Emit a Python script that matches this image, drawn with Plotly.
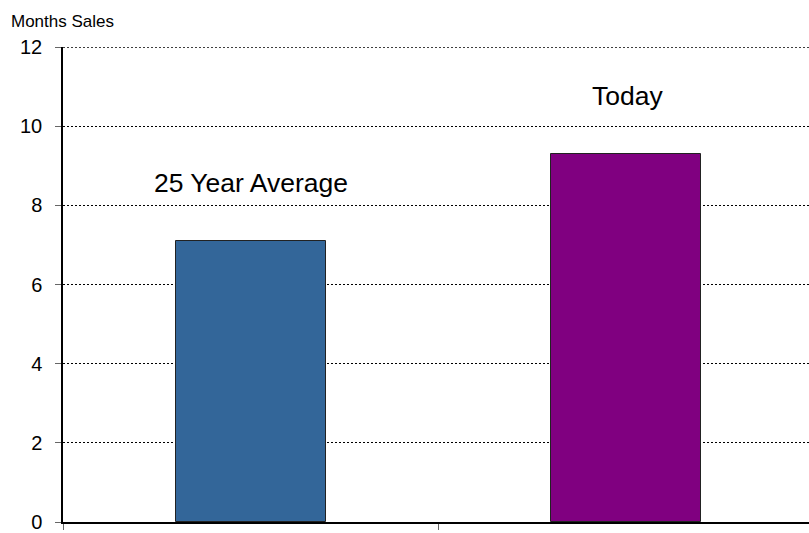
import plotly.graph_objects as go

# Months of sales: long-run average vs. today
categories = ["25 Year Average", "Today"]
values = [7.1, 9.3]
colors = ["#336699", "#800080"]
y_ticks = [0, 2, 4, 6, 8, 10, 12]

FONT = "Liberation Sans, Arial, sans-serif"
Y_MAX = 12
GRID_DASH = "2px,2px"

fig = go.Figure()
xs = list(range(len(categories)))
fig.add_trace(go.Bar(
    x=xs,
    y=values,
    width=0.4,
    marker=dict(color=colors, line=dict(color="#222222", width=1)),
    hoverinfo="skip",
))

# Category labels sit a fixed distance above each bar
for xi, (name, v) in enumerate(zip(categories, values)):
    fig.add_annotation(
        x=xi, y=v, xref="x", yref="y",
        text=name, showarrow=False,
        yanchor="middle", yshift=58, xshift=2 * xi,
        font=dict(family=FONT, size=26.5, color="#000000"),
    )

fig.add_annotation(
    x=0, y=1, xref="paper", yref="paper",
    text="Months Sales", showarrow=False,
    xanchor="left", yanchor="middle", xshift=-54, yshift=26,
    font=dict(family=FONT, size=17, color="#000000"),
)

# Top gridline at the range edge
fig.add_shape(
    type="line", xref="paper", yref="y", x0=0, x1=1, y0=Y_MAX, y1=Y_MAX,
    line=dict(color="#000000", width=1.3, dash=GRID_DASH), layer="below",
)

fig.update_layout(
    width=809, height=533,
    margin=dict(l=63, r=0, t=47, b=11),
    paper_bgcolor="white", plot_bgcolor="white",
    showlegend=False,
    font=dict(family=FONT, color="#000000"),
    bargap=0,
)

fig.update_xaxes(
    range=[-0.5, 1.489],
    tickmode="array", tickvals=[-0.5, 0.5, 1.5], ticktext=["", "", ""],
    ticks="outside", ticklen=6, tickcolor="#666666", tickwidth=1,
    showline=True, linecolor="#000000", linewidth=1.5,
    showgrid=False, zeroline=False,
)

fig.update_yaxes(
    range=[0, Y_MAX],
    tickmode="array", tickvals=y_ticks, ticktext=[str(t) for t in y_ticks],
    ticks="outside", ticklen=6, tickcolor="#666666", tickwidth=1,
    tickfont=dict(family=FONT, size=20, color="#000000"),
    ticklabelstandoff=9,
    showline=True, linecolor="#000000", linewidth=1.5,
    showgrid=True, gridcolor="#000000", gridwidth=1.3, griddash=GRID_DASH,
    zeroline=False,
)

fig.write_html("out.html")
